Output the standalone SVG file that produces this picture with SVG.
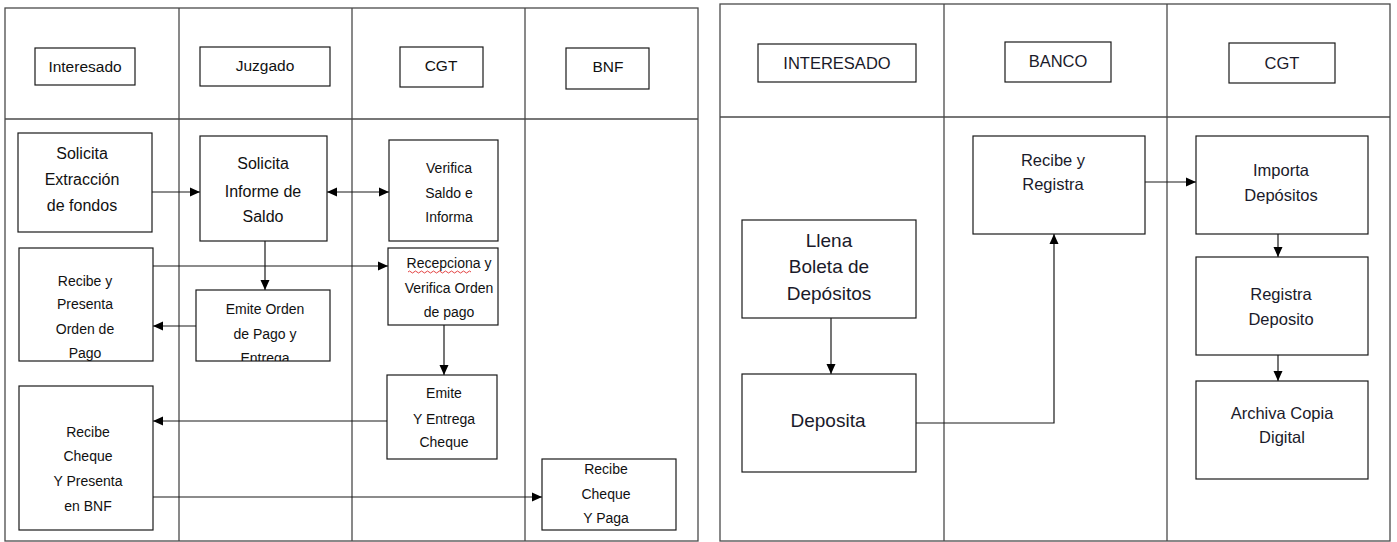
<svg xmlns="http://www.w3.org/2000/svg" width="1397" height="542" viewBox="0 0 1397 542">
<style>
.lane{fill:none;stroke:#4a4a4a;stroke-width:1.3}
.box{fill:#fff;stroke:#1a1a1a;stroke-width:1.2}
.hdr{fill:#fff;stroke:#1a1a1a;stroke-width:1.2}
.con{fill:none;stroke:#1a1a1a;stroke-width:1.2}
text{font-family:"Liberation Sans",Arial,sans-serif;fill:#111;text-anchor:middle}
.t14{font-size:14px}
.t15{font-size:15.5px}
.t16{font-size:16px}
.r{fill:#1a1a2a}
.r17{font-size:16.5px}
.r19{font-size:19px}
</style>
<defs>
<marker id="ah" markerUnits="userSpaceOnUse" markerWidth="10" markerHeight="10" viewBox="0 0 10 10" refX="10" refY="5" orient="auto-start-reverse">
<path d="M0,0.5 L10,5 L0,9.5 Z" fill="#000"/>
</marker>
<clipPath id="clipEO"><rect x="196" y="290" width="134" height="71"/></clipPath>
</defs>
<rect width="1397" height="542" fill="#fff"/>

<!-- Left swimlane frame -->
<g id="lanes-left">
<rect class="lane" x="5" y="8" width="693" height="533"/>
<line class="lane" x1="5" y1="119" x2="698" y2="119"/>
<line class="lane" x1="179" y1="8" x2="179" y2="541"/>
<line class="lane" x1="352" y1="8" x2="352" y2="541"/>
<line class="lane" x1="525" y1="8" x2="525" y2="541"/>
</g>

<!-- Right swimlane frame -->
<g id="lanes-right">
<rect class="lane" x="720" y="4" width="670" height="537"/>
<line class="lane" x1="720" y1="117" x2="1390" y2="117"/>
<line class="lane" x1="944" y1="4" x2="944" y2="541"/>
<line class="lane" x1="1167" y1="4" x2="1167" y2="541"/>
</g>

<!-- Connectors -->
<g id="connectors">
<line class="con" x1="152" y1="192" x2="200" y2="192" marker-end="url(#ah)"/>
<line class="con" x1="327" y1="192" x2="389" y2="192" marker-start="url(#ah)" marker-end="url(#ah)"/>
<line class="con" x1="265" y1="241" x2="265" y2="290" marker-end="url(#ah)"/>
<line class="con" x1="153" y1="266" x2="388" y2="266" marker-end="url(#ah)"/>
<line class="con" x1="196" y1="326" x2="153" y2="326" marker-end="url(#ah)"/>
<line class="con" x1="444" y1="325" x2="444" y2="375" marker-end="url(#ah)"/>
<line class="con" x1="387" y1="421" x2="153" y2="421" marker-end="url(#ah)"/>
<line class="con" x1="153" y1="497" x2="542" y2="497" marker-end="url(#ah)"/>
<line class="con" x1="831" y1="318" x2="831" y2="374" marker-end="url(#ah)"/>
<polyline class="con" points="916,423 1054,423 1054,234" marker-end="url(#ah)"/>
<line class="con" x1="1145" y1="182" x2="1196" y2="182" marker-end="url(#ah)"/>
<line class="con" x1="1278" y1="234" x2="1278" y2="257" marker-end="url(#ah)"/>
<line class="con" x1="1278" y1="355" x2="1278" y2="381" marker-end="url(#ah)"/>
</g>

<!-- Left headers -->
<g id="h-interesado"><rect class="hdr" x="35" y="48" width="100" height="37"/><text class="t15" x="85" y="72">Interesado</text></g>
<g id="h-juzgado"><rect class="hdr" x="200" y="47" width="130" height="39"/><text class="t15" x="265" y="71">Juzgado</text></g>
<g id="h-cgt-left"><rect class="hdr" x="400" y="47" width="83" height="40"/><text class="t15" x="441" y="71">CGT</text></g>
<g id="h-bnf"><rect class="hdr" x="566" y="48" width="83" height="41"/><text class="t15" x="608" y="72">BNF</text></g>

<!-- Left nodes -->
<g id="n-solicita-extraccion"><rect class="box" x="18" y="133" width="134" height="99"/>
<text class="t16" x="82" y="158.5">Solicita</text><text class="t16" x="82" y="185">Extracción</text><text class="t16" x="82" y="211">de fondos</text></g>
<g id="n-solicita-informe"><rect class="box" x="200" y="136" width="127" height="105"/>
<text class="t16" x="263" y="168.5">Solicita</text><text class="t16" x="263" y="196.5">Informe de</text><text class="t16" x="263" y="221.5">Saldo</text></g>
<g id="n-verifica-saldo"><rect class="box" x="389" y="140" width="109" height="101"/>
<text class="t14" x="449" y="173">Verifica</text><text class="t14" x="449" y="198">Saldo e</text><text class="t14" x="449" y="222">Informa</text></g>
<g id="n-recibe-presenta"><rect class="box" x="19" y="248" width="134" height="113"/>
<text class="t14" x="85" y="286">Recibe y</text><text class="t14" x="85" y="309">Presenta</text><text class="t14" x="85" y="334">Orden de</text><text class="t14" x="85" y="358">Pago</text></g>
<g id="n-emite-orden"><rect class="box" x="196" y="290" width="134" height="71"/>
<g clip-path="url(#clipEO)"><text class="t14" x="265" y="314">Emite Orden</text><text class="t14" x="265" y="339">de Pago y</text><text class="t14" x="265" y="363">Entrega</text></g></g>
<g id="n-recepciona"><rect class="box" x="388" y="248" width="110" height="77"/>
<text class="t14" x="449" y="268">Recepciona y</text><text class="t14" x="449" y="293">Verifica Orden</text><text class="t14" x="449" y="317">de pago</text>
<path d="M408,272 q1.5,-2 3,0 t3,0 t3,0 t3,0 t3,0 t3,0 t3,0 t3,0 t3,0 t3,0 t3,0 t3,0 t3,0 t3,0 t3,0 t3,0 t3,0 t3,0 t3,0 t3,0 t3,0" fill="none" stroke="#e03030" stroke-width="0.9"/></g>
<g id="n-emite-cheque"><rect class="box" x="387" y="375" width="110" height="84"/>
<text class="t14" x="444" y="398">Emite</text><text class="t14" x="444" y="424">Y Entrega</text><text class="t14" x="444" y="447">Cheque</text></g>
<g id="n-recibe-cheque"><rect class="box" x="19" y="386" width="134" height="144"/>
<text class="t14" x="88" y="437">Recibe</text><text class="t14" x="88" y="461">Cheque</text><text class="t14" x="88" y="486">Y Presenta</text><text class="t14" x="88" y="511">en BNF</text></g>
<g id="n-recibe-paga"><rect class="box" x="542" y="459" width="134" height="71"/>
<text class="t14" x="606" y="474">Recibe</text><text class="t14" x="606" y="499">Cheque</text><text class="t14" x="606" y="523">Y Paga</text></g>

<!-- Right headers -->
<g id="h-interesado-r"><rect class="hdr" x="758" y="44" width="158" height="38"/><text class="r r17" x="837" y="69">INTERESADO</text></g>
<g id="h-banco"><rect class="hdr" x="1005" y="42" width="106" height="40"/><text class="r r17" x="1058" y="67">BANCO</text></g>
<g id="h-cgt-right"><rect class="hdr" x="1229" y="43" width="106" height="40"/><text class="r r17" x="1282" y="69">CGT</text></g>

<!-- Right nodes -->
<g id="n-recibe-registra"><rect class="box" x="973" y="136" width="172" height="98"/>
<text class="r r17" x="1053" y="166">Recibe y</text><text class="r r17" x="1053" y="190">Registra</text></g>
<g id="n-importa"><rect class="box" x="1196" y="136" width="172" height="98"/>
<text class="r r17" x="1281" y="176">Importa</text><text class="r r17" x="1281" y="201">Depósitos</text></g>
<g id="n-registra-deposito"><rect class="box" x="1196" y="257" width="172" height="98"/>
<text class="r r17" x="1281" y="300">Registra</text><text class="r r17" x="1281" y="325">Deposito</text></g>
<g id="n-archiva"><rect class="box" x="1196" y="381" width="172" height="98"/>
<text class="r r17" x="1282" y="419">Archiva Copia</text><text class="r r17" x="1282" y="443">Digital</text></g>
<g id="n-llena"><rect class="box" x="742" y="220" width="174" height="98"/>
<text class="r r19" x="829" y="247">Llena</text><text class="r r19" x="829" y="273">Boleta de</text><text class="r r19" x="829" y="300">Depósitos</text></g>
<g id="n-deposita"><rect class="box" x="742" y="374" width="174" height="98"/>
<text class="r r19" x="828" y="427">Deposita</text></g>
</svg>
